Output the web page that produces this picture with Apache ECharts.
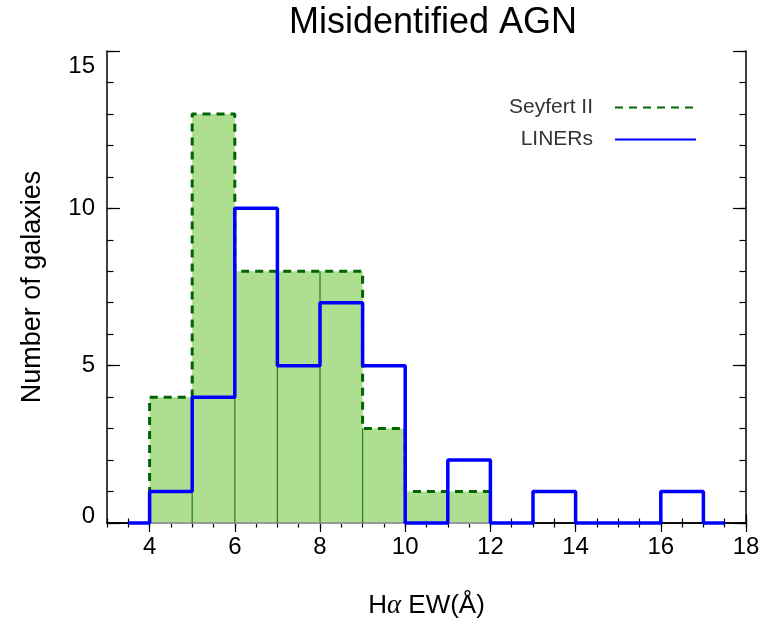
<!DOCTYPE html>
<html>
<head>
<meta charset="utf-8">
<script src="https://cdn.jsdelivr.net/npm/echarts@6/dist/echarts.min.js"></script>
<style>html,body{margin:0;padding:0;background:#fff}#c{width:764px;height:624px}</style>
</head>
<body>
<div id="c"></div>
<script>
const xTicks = [4, 6, 8, 10, 12, 14, 16, 18];
const yTicks = [0, 5, 10, 15];
const seyfertEdges = [4, 5, 6, 7, 8, 9, 10, 11, 12];
const seyfertCounts = [4, 13, 8, 8, 8, 3, 1, 1];
const linerEdges = [3.5, 4, 5, 6, 7, 8, 9, 10, 11, 12, 13, 14, 15, 16, 17, 17.5];
const linerCounts = [0, 1, 4, 10, 5, 7, 5, 0, 2, 0, 1, 0, 0, 1, 0];

const FONT = 'Liberation Sans, Helvetica, Arial, sans-serif';

function stepPoints(edges, counts, closeStart, closeEnd) {
  const pts = [];
  const n = counts.length;
  if (closeStart) pts.push([edges[0], 0]);
  pts.push([edges[0], counts[0]]);
  for (let i = 0; i < n; i++) {
    pts.push([edges[i + 1], counts[i]]);
    if (i + 1 < n) pts.push([edges[i + 1], counts[i + 1]]);
  }
  if (closeEnd) pts.push([edges[n], 0]);
  return pts;
}

const binData = seyfertCounts.map((c, i) => {
  const left = seyfertEdges[i], right = seyfertEdges[i + 1];
  const edgeH = i > 0 ? Math.min(c, seyfertCounts[i - 1]) : 0;
  return [left, right, c, edgeH];
});

const chart = echarts.init(document.getElementById('c'), null, { renderer: 'canvas' });

const baseX = { type: 'value', min: 3, max: 18, splitLine: { show: false } };
const baseY = { type: 'value', min: 0, max: 15, splitLine: { show: false } };
const frameLine = { show: true, lineStyle: { color: '#000', width: 1.5 } };

chart.setOption({
  animation: false,
  backgroundColor: '#fff',
  textStyle: { fontFamily: FONT },
  title: {
    text: 'Misidentified AGN',
    left: 284, top: 0,
    textStyle: { fontFamily: FONT, fontSize: 36, fontWeight: 'normal', color: '#000' }
  },
  grid: { left: 107, right: 18, top: 51, bottom: 101, containLabel: false },
  legend: {
    data: ['Seyfert II', 'LINERs'],
    orient: 'vertical',
    right: 62, top: 92,
    align: 'right',
    itemWidth: 81, itemHeight: 20, itemGap: 11,
    itemStyle: { opacity: 0 },
    textStyle: { fontFamily: FONT, fontSize: 21, color: '#333', padding: [0, 17, 0, 0] }
  },
  xAxis: [
    Object.assign({}, baseX, {
      position: 'bottom',
      axisLine: frameLine,
      axisTick: { show: true, inside: true, length: 9, customValues: xTicks, lineStyle: { color: '#000', width: 1.2 } },
      axisLabel: { show: true, customValues: xTicks, fontSize: 24, color: '#000', margin: 12, fontFamily: FONT },
      name: '{h|H}{a|α}{h| EW(Å)}',
      nameLocation: 'middle',
      nameGap: 69,
      nameTextStyle: {
        rich: {
          h: { fontFamily: FONT, fontSize: 26, color: '#000' },
          a: { fontFamily: 'Liberation Serif, DejaVu Serif, serif', fontStyle: 'italic', fontSize: 27, color: '#000' }
        }
      }
    }),
    Object.assign({}, baseX, {
      position: 'bottom', interval: 0.5,
      axisLine: { show: false },
      axisTick: { show: true, inside: true, length: 4.5, lineStyle: { color: '#000', width: 1.2 } },
      axisLabel: { show: false }
    }),
    Object.assign({}, baseX, {
      position: 'top',
      axisLine: frameLine,
      axisTick: { show: true, inside: true, length: 9, customValues: xTicks, lineStyle: { color: '#000', width: 1.2 } },
      axisLabel: { show: false }
    }),
    Object.assign({}, baseX, {
      position: 'top', interval: 0.5,
      axisLine: { show: false },
      axisTick: { show: true, inside: true, length: 4.5, lineStyle: { color: '#000', width: 1.2 } },
      axisLabel: { show: false }
    })
  ],
  yAxis: [
    Object.assign({}, baseY, {
      position: 'left', interval: 5,
      axisLine: frameLine,
      axisTick: { show: true, inside: true, length: 13, lineStyle: { color: '#000', width: 1.2 } },
      axisLabel: {
        show: true, margin: 12, color: '#000', fontSize: 24, fontFamily: FONT,
        formatter: function (v) {
          if (v === 15) return '{t|' + v + '}';
          if (v === 0) return '{b|' + v + '}';
          return '{n|' + v + '}';
        },
        rich: {
          t: { fontSize: 24, fontFamily: FONT, color: '#000', padding: [30, 0, 0, 0] },
          b: { fontSize: 24, fontFamily: FONT, color: '#000', padding: [0, 0, 14, 0] },
          n: { fontSize: 24, fontFamily: FONT, color: '#000' }
        }
      },
      name: 'Number of galaxies',
      nameLocation: 'middle',
      nameGap: 61,
      nameTextStyle: { fontFamily: FONT, fontSize: 27, color: '#000' }
    }),
    Object.assign({}, baseY, {
      position: 'left', interval: 1,
      axisLine: { show: false },
      axisTick: { show: true, inside: true, length: 6.5, lineStyle: { color: '#000', width: 1.2 } },
      axisLabel: { show: false }
    }),
    Object.assign({}, baseY, {
      position: 'right', interval: 5,
      axisLine: frameLine,
      axisTick: { show: true, inside: true, length: 13, lineStyle: { color: '#000', width: 1.2 } },
      axisLabel: { show: false }
    }),
    Object.assign({}, baseY, {
      position: 'right', interval: 1,
      axisLine: { show: false },
      axisTick: { show: true, inside: true, length: 6.5, lineStyle: { color: '#000', width: 1.2 } },
      axisLabel: { show: false }
    })
  ],
  series: [
    {
      type: 'custom',
      name: 'fill',
      xAxisIndex: 0, yAxisIndex: 0,
      z: 2,
      encode: { x: [0, 1], y: 2 },
      data: binData,
      renderItem: function (params, api) {
        const p0 = api.coord([api.value(0), 0]);
        const p1 = api.coord([api.value(1), api.value(2)]);
        const pe = api.coord([api.value(0), api.value(3)]);
        const children = [
          { type: 'rect', shape: { x: p0[0], y: p1[1], width: p1[0] - p0[0], height: p0[1] - p1[1] },
            style: { fill: '#aede8f' } },
          { type: 'line', shape: { x1: p0[0], y1: p0[1], x2: p1[0], y2: p0[1] },
            style: { stroke: '#999', lineWidth: 2 } }
        ];
        if (api.value(3) > 0) {
          children.push({ type: 'line', shape: { x1: p0[0], y1: p0[1], x2: pe[0], y2: pe[1] },
            style: { stroke: '#2a8a1e', lineWidth: 1.3 } });
        }
        return { type: 'group', children: children };
      }
    },
    {
      type: 'line',
      name: 'Seyfert II',
      xAxisIndex: 0, yAxisIndex: 0,
      z: 3,
      data: stepPoints(seyfertEdges, seyfertCounts, true, false),
      symbol: 'none',
      clip: false,
      lineStyle: { color: '#006400', width: 3, type: [8, 6] },
      itemStyle: { color: '#006400' }
    },
    {
      type: 'line',
      name: 'LINERs',
      xAxisIndex: 0, yAxisIndex: 0,
      z: 4,
      data: stepPoints(linerEdges, linerCounts, false, false),
      symbol: 'none',
      clip: false,
      lineStyle: { color: '#0000ff', width: 3.5 },
      itemStyle: { color: '#0000ff' }
    }
  ]
});
</script>
</body>
</html>
